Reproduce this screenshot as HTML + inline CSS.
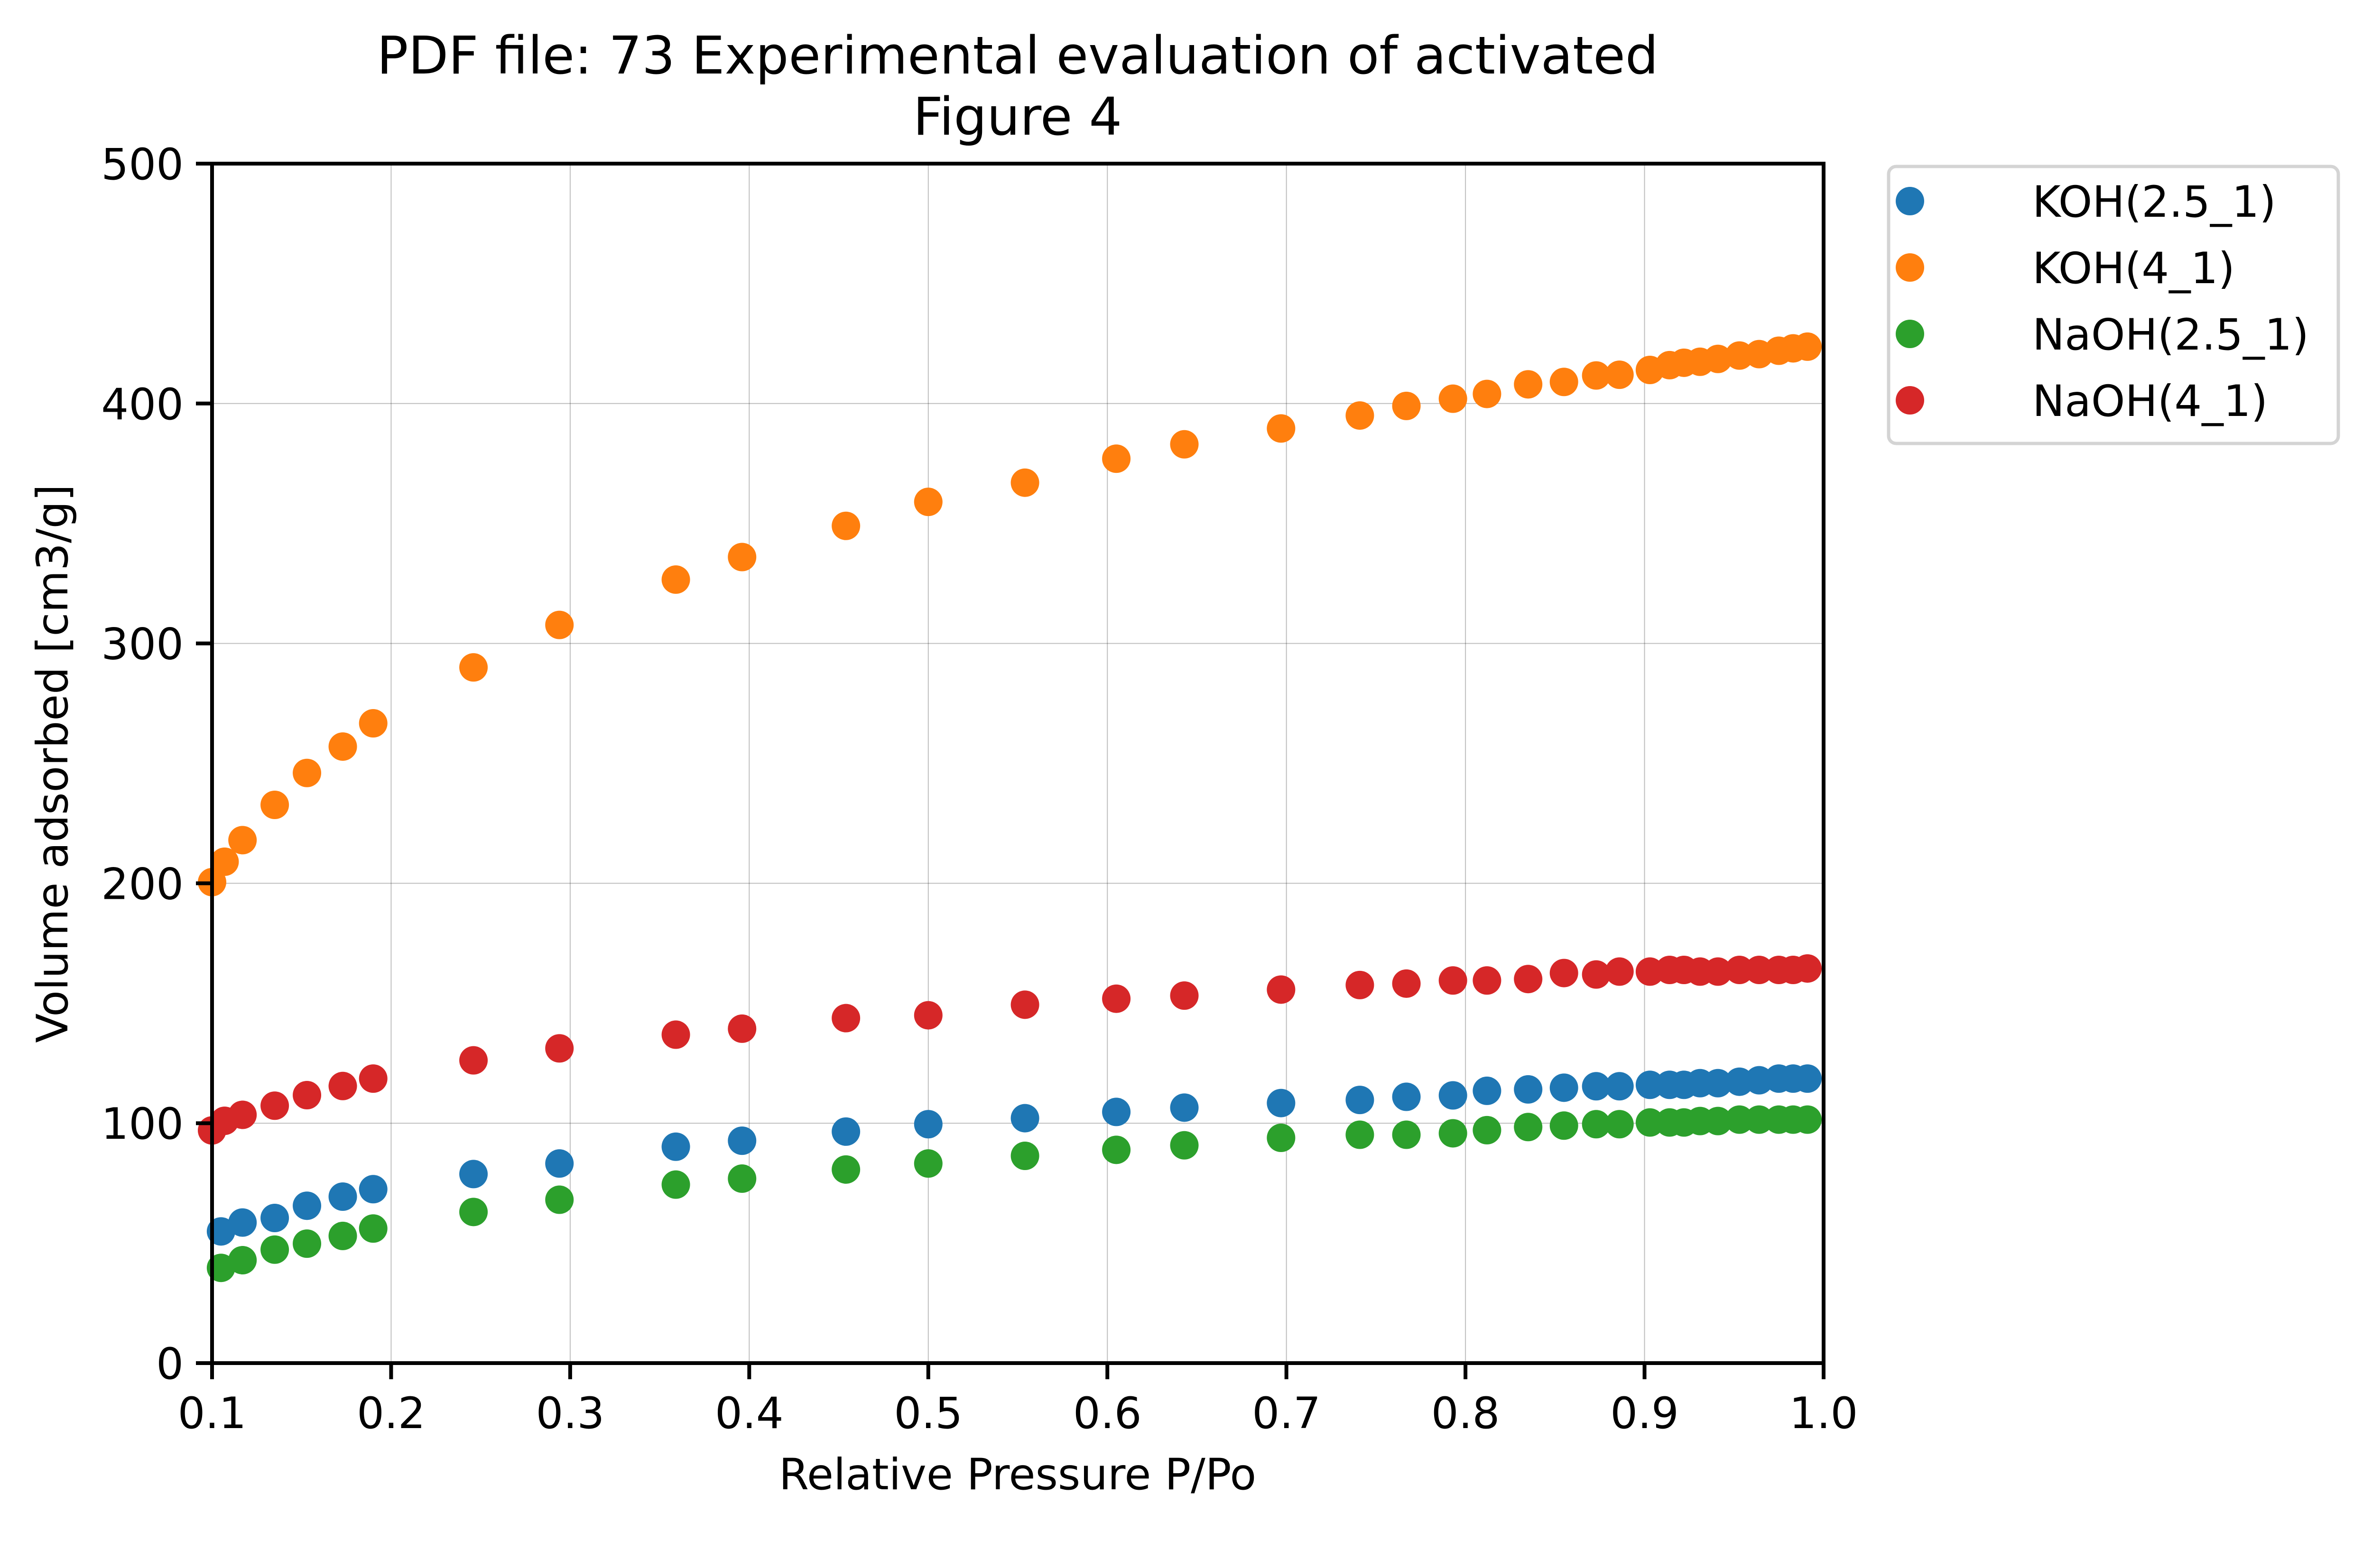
<!DOCTYPE html>
<html><head><meta charset="utf-8"><style>
html,body{margin:0;padding:0;background:#fff;}
svg text{font-family:"DejaVu Sans","Liberation Sans",sans-serif;fill:#000;}
</style></head><body>
<svg id="chart" width="5109" height="3301" viewBox="0 0 5109 3301" xmlns="http://www.w3.org/2000/svg">
<rect x="0" y="0" width="5109" height="3301" fill="#fff"/>
<g id="grid"></g>
<g id="marks"></g>
<g id="axes"></g>
<text x="2145" y="155" font-size="110" text-anchor="middle">PDF file: 73 Experimental evaluation of activated</text>
<text x="2145" y="284" font-size="110" text-anchor="middle">Figure 4</text>
<text x="2145" y="3140" font-size="91" text-anchor="middle">Relative Pressure P/Po</text>
<text x="0" y="0" font-size="91" text-anchor="middle" transform="translate(142,1610) rotate(-90)">Volume adsorbed [cm3/g]</text>
<g id="legend">
<rect x="3981" y="351" width="948" height="584" rx="16" fill="#fff" stroke="#d4d4d4" stroke-width="7"/>
</g>
</svg>
<script>
const pressure=[0.1,0.107,0.117,0.135,0.153,0.173,0.19,0.246,0.294,0.359,0.396,0.454,0.5,0.554,0.605,0.643,0.697,0.741,0.767,0.793,0.812,0.835,0.855,0.873,0.886,0.903,0.914,0.922,0.931,0.941,0.953,0.964,0.975,0.983,0.991];
const pressureShort=[0.105,0.117,0.135,0.153,0.173,0.19,0.246,0.294,0.359,0.396,0.454,0.5,0.554,0.605,0.643,0.697,0.741,0.767,0.793,0.812,0.835,0.855,0.873,0.886,0.903,0.914,0.922,0.931,0.941,0.953,0.964,0.975,0.983,0.991];
const koh25=[54.9,58.6,60.5,65.6,69.4,72.5,78.8,83.2,90.2,92.7,96.5,99.6,102.1,104.7,106.5,108.4,109.7,111,111.6,113.5,114.1,114.8,115.4,115.4,116,116,116,116.7,116.7,117.3,117.9,118.6,118.6,118.6];
const koh4=[200.5,209,218,232.7,246,257,266.7,290,307.7,326.6,336,349,359,367,377,383,389.6,395,399,402,404,408,409,411.7,412,414,416,417,417.4,418.6,420,420.6,422,423,423.7];
const naoh25=[39.7,42.9,47.3,49.8,53,56.1,63,68.1,74.4,76.9,80.7,83.2,86.4,88.9,90.8,93.9,95.2,95.2,95.8,97.1,98.4,99,99.6,99.6,100.3,100.3,100.3,100.9,100.9,101.5,101.5,101.5,101.5,101.5];
const naoh4=[97,101,103.5,107.3,111.7,115.5,118.6,126.2,131.2,136.9,139.4,143.8,145,149.4,151.9,153.2,155.7,157.6,158.2,159.5,159.5,160.1,162.6,162,163.2,163.2,163.9,163.9,163.2,163.2,163.9,163.9,163.9,163.9,164.5];
const xTicks=[0.1,0.2,0.3,0.4,0.5,0.6,0.7,0.8,0.9,1.0];
const xTickLabels=["0.1","0.2","0.3","0.4","0.5","0.6","0.7","0.8","0.9","1.0"];
const yTicks=[0,100,200,300,400,500];
const yTickLabels=["0","100","200","300","400","500"];
const seriesNames=["KOH(2.5_1)","KOH(4_1)","NaOH(2.5_1)","NaOH(4_1)"];

const NS="http://www.w3.org/2000/svg";
const L=447,R=3844,T=345,B=2874;
function xs(v){return L+(v-0.1)/0.9*(R-L);}
function ys(v){return B-v/500*(B-T);}
function mk(tag,attrs,parent){const e=document.createElementNS(NS,tag);for(const k in attrs)e.setAttribute(k,attrs[k]);parent.appendChild(e);return e;}
const grid=document.getElementById('grid'),axes=document.getElementById('axes'),marks=document.getElementById('marks'),legend=document.getElementById('legend');
xTicks.forEach((t,i)=>{
  const g=mk('line',{x1:xs(t),x2:xs(t),y1:T,y2:B,stroke:'#000','stroke-opacity':0.25,'stroke-width':2},grid);
  
  
  const tk=mk('line',{x1:xs(t),x2:xs(t),y1:B,y2:B+34,stroke:'#000','stroke-width':8},axes);
  
  
  const tx=mk('text',{x:xs(t),y:B+137,'font-size':91,'text-anchor':'middle'},axes);
  tx.textContent=xTickLabels[i];
  
  
});
yTicks.forEach((t,i)=>{
  const g=mk('line',{x1:L,x2:R,y1:ys(t),y2:ys(t),stroke:'#000','stroke-opacity':0.25,'stroke-width':2},grid);
  
  
  const tk=mk('line',{x1:L-34,x2:L,y1:ys(t),y2:ys(t),stroke:'#000','stroke-width':8},axes);
  
  
  const tx=mk('text',{x:L-60,y:ys(t)+33,'font-size':91,'text-anchor':'end'},axes);
  tx.textContent=yTickLabels[i];
  
  
});
const frame=mk('rect',{x:L,y:T,width:R-L,height:B-T,fill:'none',stroke:'#000','stroke-width':8},axes);


const series=[[pressureShort,koh25,'#1f77b4'],[pressure,koh4,'#ff7f0e'],[pressureShort,naoh25,'#2ca02c'],[pressure,naoh4,'#d62728']];
series.forEach((s,si)=>{
  s[1].forEach((v,i)=>{
    const c=mk('circle',{cx:xs(s[0][i]),cy:ys(v),r:30,fill:s[2]},marks);
    
    
  });
  const ly=424+si*140;
  const lc=mk('circle',{cx:4026,cy:ly,r:30,fill:s[2]},legend);
  
  
  const lt=mk('text',{x:4284,y:ly+33,'font-size':91},legend);
  lt.textContent=seriesNames[si];
  
  
});
</script>
</body></html>
